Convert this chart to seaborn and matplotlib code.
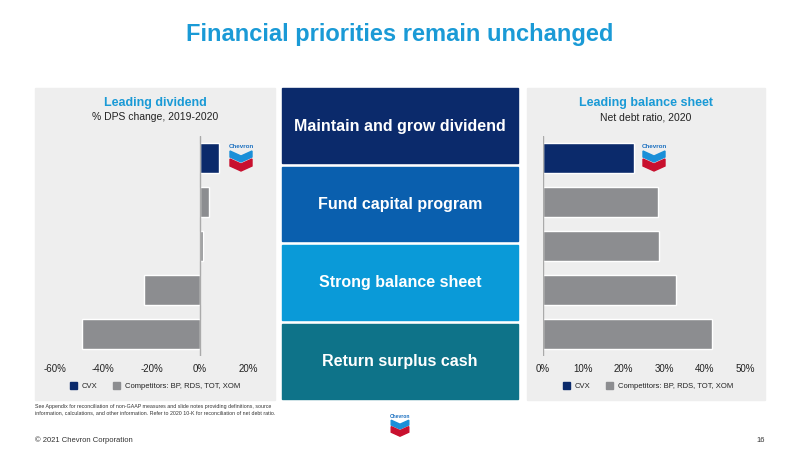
import matplotlib
matplotlib.use("Agg")
import matplotlib.pyplot as plt
import seaborn as sns
import pandas as pd
from matplotlib.patches import Rectangle, Polygon

sns.set_theme(style="white")
plt.rcParams['font.family'] = ['Liberation Sans', 'DejaVu Sans']

companies = ["CVX", "C1", "C2", "C3", "C4"]
groups = ["CVX", "Competitors", "Competitors", "Competitors", "Competitors"]
dps_change = [8, 4, 1.5, -23, -49]
net_debt = [22.5, 28.5, 28.8, 33, 41.8]
left_ticks = [-60, -40, -20, 0, 20]
right_ticks = [0, 10, 20, 30, 40, 50]
boxes = ["Maintain and grow dividend", "Fund capital program", "Strong balance sheet", "Return surplus cash"]
box_colors = ["#0b2a6b", "#0a5fae", "#0a9ad8", "#0e7389"]

NAVY = "#0b2a6b"; GREY = "#8c8d90"; BLUE = "#1a9ad6"; BG = "#eeeeee"
pal = {"CVX": NAVY, "Competitors": GREY}

W, H = 800, 450
fig = plt.figure(figsize=(8, 4.5), dpi=100)
fig.patch.set_facecolor("white")

def fx(x): return x / W
def fy(y): return 1 - y / H
def rect(x0, y0, x1, y1, c, z=0):
    fig.patches.append(Rectangle((fx(x0), fy(y1)), fx(x1 - x0), (y1 - y0) / H,
                                 transform=fig.transFigure, color=c, zorder=z))

fig.text(0.5, fy(35), "Financial priorities remain unchanged", ha="center", va="center",
         color=BLUE, fontsize=17, fontweight="bold")

rect(35, 88, 275, 400, BG, -5)
rect(527, 88, 765, 400, BG, -5)
for i, (t, c) in enumerate(zip(boxes, box_colors)):
    y0 = 88 + i * 78.5
    rect(282, y0, 518, y0 + 75, c, -5)
    fig.text(fx(400), fy(y0 + 38), t, ha="center", va="center", color="white",
             fontsize=11.5, fontweight="bold")

def chevron_logo(x, y, s=1.0):
    fig.text(fx(x), fy(y), "Chevron", ha="center", va="center", color="#1a6fc0",
             fontsize=4.5 * s, fontweight="bold", zorder=6)
    pts_b = [(-11, 4), (0, 9), (11, 4), (11, 10), (0, 15), (-11, 10)]
    pts_r = [(-11, 12), (0, 17), (11, 12), (11, 19), (0, 24), (-11, 19)]
    for pts, c in [(pts_b, "#1a8fd8"), (pts_r, "#c8102e")]:
        fig.patches.append(Polygon([(fx(x + a * s), fy(y + b * s)) for a, b in pts], closed=True,
                                   transform=fig.transFigure, color=c, zorder=6))

def panel(x0, x1, data, ticks, xlim, title, sub, cx, logo_x, lx):
    fig.text(fx(cx), fy(103), title, ha="center", va="center", color=BLUE,
             fontsize=9, fontweight="bold")
    fig.text(fx(cx), fy(117), sub, ha="center", va="center", color="#222222", fontsize=7.5)
    ax = fig.add_axes([fx(x0), fy(356), fx(x1 - x0), (356 - 136) / H])
    ax.set_zorder(2)
    df = pd.DataFrame({"company": companies, "value": data, "group": groups})
    sns.barplot(data=df, y="company", x="value", hue="group", palette=pal, dodge=False,
                orient="h", width=0.68, ax=ax, legend=False, saturation=1)
    ax.patch.set_alpha(0)
    ax.set_xlim(*xlim)
    ax.set_xticks(ticks)
    ax.set_xticklabels([f"{t}%" for t in ticks], fontsize=7, color="#222222")
    ax.set_yticks([])
    ax.set_xlabel(""); ax.set_ylabel("")
    for s in ax.spines.values(): s.set_visible(False)
    ax.axvline(0, color="#aaaaaa", lw=1, zorder=5)
    ax.tick_params(axis="x", length=0, pad=6)
    chevron_logo(logo_x, 147)
    rect(lx, 382, lx + 7, 389, NAVY)
    fig.text(fx(lx + 12), fy(386), "CVX", fontsize=5.5, va="center", color="#222222")
    rect(lx + 43, 382, lx + 50, 389, GREY)
    fig.text(fx(lx + 55), fy(386), "Competitors: BP, RDS, TOT, XOM", fontsize=5.5,
             va="center", color="#222222")

panel(55, 248, dps_change, left_ticks, (-60, 20), "Leading dividend",
      "% DPS change, 2019-2020", 155, 241, 70)
panel(543, 745, net_debt, right_ticks, (0, 50), "Leading balance sheet",
      "Net debt ratio, 2020", 646, 654, 563)

fig.text(fx(35), fy(404), "See Appendix for reconciliation of non-GAAP measures and slide notes providing definitions, source\n"
         "information, calculations, and other information. Refer to 2020 10-K for reconciliation of net debt ratio.",
         fontsize=3.8, va="top", color="#333333", linespacing=1.4)
chevron_logo(400, 417, 0.8)
fig.text(fx(35), fy(440), "© 2021 Chevron Corporation", fontsize=5.5, va="center", color="#333333")
fig.text(fx(765), fy(440), "16", fontsize=5.5, va="center", ha="right", color="#333333")

fig.savefig("out.png", dpi=100)
